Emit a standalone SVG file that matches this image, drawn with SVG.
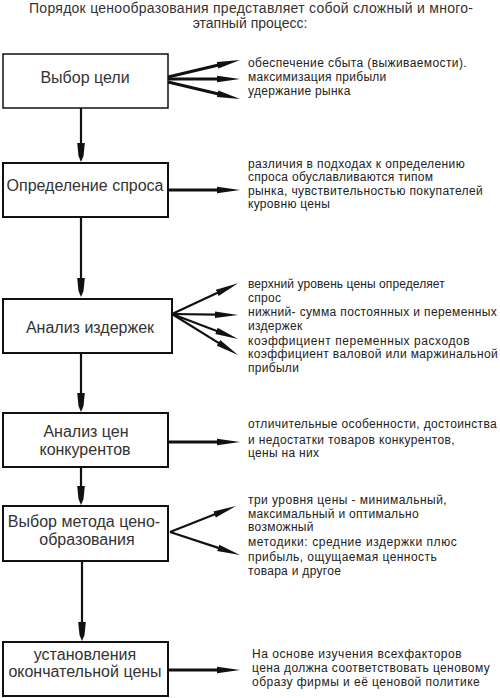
<svg xmlns="http://www.w3.org/2000/svg" width="500" height="698" viewBox="0 0 500 698">
<style>
text{font-family:"Liberation Sans",Arial,sans-serif;fill:#222}
.t{font-size:14px;text-anchor:middle;fill:#333}
.b{font-size:16px;text-anchor:middle;fill:#333}
.s{font-size:12px;letter-spacing:0.3px}
.box{fill:#fff;stroke:#111;stroke-width:2}
.c{fill:none;stroke:#111;stroke-width:2.2}
.c3{fill:none;stroke:#111;stroke-width:3}
</style>
<defs>
<marker id="ah" viewBox="-1 -4 25 8" markerWidth="25" markerHeight="8" refX="0" refY="0" orient="auto" markerUnits="userSpaceOnUse">
<path d="M-1,-3.3 L22,0 L-1,3.3 Z" fill="#111"/>
</marker>
<marker id="av" viewBox="-1 -5 20 10" markerWidth="20" markerHeight="10" refX="0" refY="0" orient="auto" markerUnits="userSpaceOnUse">
<path d="M-1,-3.8 L12,-2.5 L18,0 L12,2.5 L-1,3.8 Z" fill="#111"/>
</marker>
</defs>
<g id="title">
<text class="t" x="251" y="13" textLength="444">Порядок ценообразования представляет собой сложный и много-</text>
<text class="t" x="250" y="28">этапный процесс:</text>
</g>
<g id="connectors">
<path class="c" d="M81,108 V144" marker-end="url(#av)"/>
<path class="c" d="M81,217 V279" marker-end="url(#av)"/>
<path class="c" d="M81,353 V394" marker-end="url(#av)"/>
<path class="c" d="M81,467 V487" marker-end="url(#av)"/>
<path class="c" d="M82,561 V623" marker-end="url(#av)"/>
<path class="c3" d="M168,77 L218.6,65.05" marker-end="url(#ah)"/>
<path class="c3" d="M168,79 L218,79" marker-end="url(#ah)"/>
<path class="c3" d="M168,82 L218.6,93.95" marker-end="url(#ah)"/>
<path class="c3" d="M168,190 L218,190" marker-end="url(#ah)"/>
<path class="c" d="M172,314 L218.1,292.5" marker-end="url(#ah)"/>
<path class="c" d="M172,314 L216,314.7" marker-end="url(#ah)"/>
<path class="c" d="M172,314 L217.4,331.2" marker-end="url(#ah)"/>
<path class="c" d="M172,314 L219.3,343.4" marker-end="url(#ah)"/>
<path class="c3" d="M168,442 L218,442" marker-end="url(#ah)"/>
<path class="c" d="M170,532 L215.5,514.1" marker-end="url(#ah)"/>
<path class="c" d="M170,532 L219.1,548.1" marker-end="url(#ah)"/>
<path class="c3" d="M168,670 L218,670" marker-end="url(#ah)"/>
</g>
<g id="n1">
<rect class="box" x="3" y="54" width="165" height="54" style="stroke-width:1.5"/>
<text class="b" x="85" y="83">Выбор цели</text>
</g>
<g id="n1-notes">
<text class="s" x="248" y="67" textLength="219">обеспечение сбыта (выживаемости).</text>
<text class="s" x="248" y="81">максимизация прибыли</text>
<text class="s" x="248" y="95">удержание рынка</text>
</g>
<g id="n2">
<rect class="box" x="3" y="163" width="165" height="54"/>
<text class="b" x="85" y="191">Определение спроса</text>
</g>
<g id="n2-notes">
<text class="s" x="248" y="168" textLength="217">различия в подходах к определению</text>
<text class="s" x="248" y="181">спроса обуславливаются типом</text>
<text class="s" x="248" y="195" textLength="235">рынка, чувствительностью покупателей</text>
<text class="s" x="248" y="208">куровню цены</text>
</g>
<g id="n3">
<rect class="box" x="3" y="299" width="169" height="54"/>
<text class="b" x="90" y="333">Анализ издержек</text>
</g>
<g id="n3-notes">
<text class="s" x="248" y="288" textLength="197">верхний уровень цены определяет</text>
<text class="s" x="248" y="302">спрос</text>
<text class="s" x="248" y="316" textLength="249">нижний- сумма постоянных и переменных</text>
<text class="s" x="248" y="330">издержек</text>
<text class="s" x="248" y="345" textLength="222">коэффициент переменных расходов</text>
<text class="s" x="248" y="358" textLength="250">коэффициент валовой или маржинальной</text>
<text class="s" x="248" y="372">прибыли</text>
</g>
<g id="n4">
<rect class="box" x="3" y="413" width="165" height="54"/>
<text class="b" x="86" y="437">Анализ цен</text>
<text class="b" x="85" y="455">конкурентов</text>
</g>
<g id="n4-notes">
<text class="s" x="248" y="428" textLength="249">отличительные особенности, достоинства</text>
<text class="s" x="248" y="444" textLength="207">и недостатки товаров конкурентов,</text>
<text class="s" x="248" y="457">цены на них</text>
</g>
<g id="n5">
<rect class="box" x="3" y="506" width="165" height="55"/>
<text class="b" x="84" y="527">Выбор метода цено-</text>
<text class="b" x="87" y="545">образования</text>
</g>
<g id="n5-notes">
<text class="s" x="248" y="504" textLength="199">три уровня цены - минимальный,</text>
<text class="s" x="248" y="518">максимальный и оптимально</text>
<text class="s" x="248" y="531">возможный</text>
<text class="s" x="248" y="546" textLength="209">методики: средние издержки плюс</text>
<text class="s" x="248" y="561" textLength="189">прибыль, ощущаемая ценность</text>
<text class="s" x="248" y="575">товара и другое</text>
</g>
<g id="n6">
<rect class="box" x="3" y="642" width="165" height="54"/>
<text class="b" x="85" y="660">установления</text>
<text class="b" x="85" y="677">окончательной цены</text>
</g>
<g id="n6-notes">
<text class="s" x="252" y="658" textLength="210">На основе изучения всехфакторов</text>
<text class="s" x="252" y="672" textLength="238">цена должна соответствовать ценовому</text>
<text class="s" x="252" y="686" textLength="228">образу фирмы и её ценовой политике</text>
</g>
</svg>
